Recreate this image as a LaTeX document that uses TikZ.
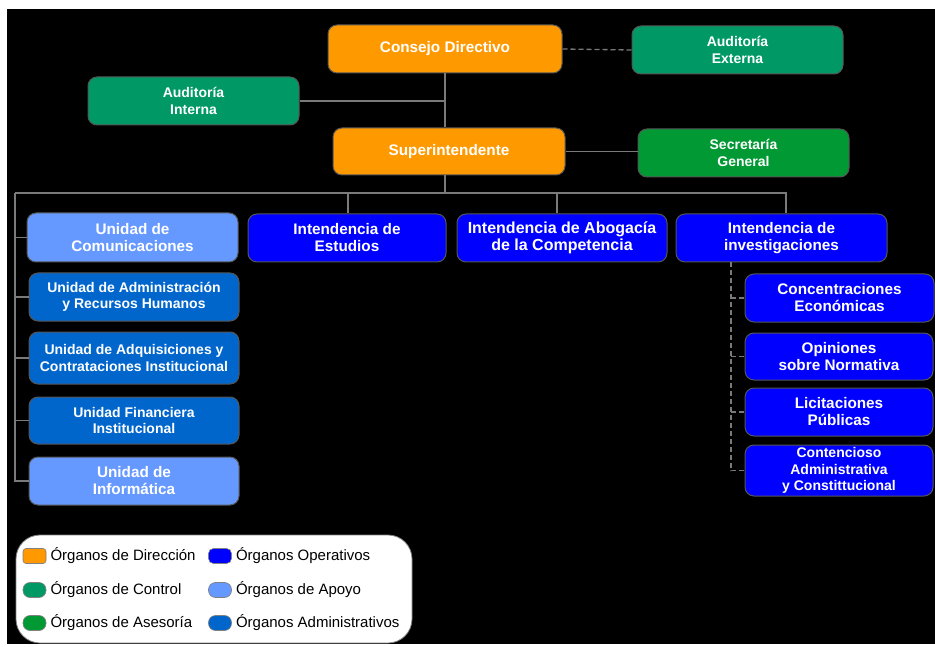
\documentclass[tikz,border=0pt]{standalone}
\usepackage{fontspec}
\setmainfont{Liberation Sans}
\usetikzlibrary{positioning}
\definecolor{cdir}{HTML}{FF9900}
\definecolor{cctl}{HTML}{009966}
\definecolor{case}{HTML}{009933}
\definecolor{cope}{HTML}{0000FF}
\definecolor{capo}{HTML}{6699FF}
\definecolor{cadm}{HTML}{0066CC}
\definecolor{cline}{HTML}{7A7A7A}
\begin{document}
\begin{tikzpicture}[x=1pt,y=-1pt,
  box/.style={draw=cline!70!black, line width=1pt, rounded corners=9pt, text=white,
    font=\fontsize{15.3}{17}\selectfont\bfseries, align=center, inner sep=0pt},
  smallbox/.style={box, font=\fontsize{14}{16.5}\selectfont\bfseries},
  bigbox/.style={box, font=\fontsize{16}{17}\selectfont\bfseries},
  conn/.style={draw=cline, line width=1.3pt},
  dconn/.style={draw=cline, line width=1.3pt, dash pattern=on 5pt off 3pt},
  swatch/.style={draw=gray, line width=0.6pt, minimum width=23pt, minimum height=15pt, inner sep=0pt},
  legtext/.style={anchor=west, inner sep=0pt, font=\fontsize{15}{17}\selectfont, text=black}
]
\useasboundingbox (0,0) rectangle (935,647);
\fill[white] (0,0) rectangle (935,647);
\fill[black] (7,9) rectangle (935,644);

% top level
\node[box, fill=cdir, minimum width=234pt, minimum height=48pt] (cons) at (445,49) {Consejo Directivo};
\node[smallbox, fill=cctl, minimum width=211pt, minimum height=48pt] (audext) at (737.5,50) {Auditoría\\Externa};
\node[smallbox, fill=cctl, minimum width=211pt, minimum height=48pt] (audint) at (193.5,101) {Auditoría\\Interna};
\node[box, fill=cdir, minimum width=232pt, minimum height=47pt] (sup) at (449,151.5) {Superintendente};
\node[smallbox, fill=case, minimum width=211pt, minimum height=48pt] (secgen) at (743.5,153) {Secretaría\\General};

% left column
\node[box, fill=capo, minimum width=211pt, minimum height=49pt] (com) at (132.5,237.5) {Unidad de\\Comunicaciones};
\node[smallbox, fill=cadm, minimum width=210pt, minimum height=48pt] (adm) at (134,297) {Unidad de Administración\\y Recursos Humanos};
\node[smallbox, fill=cadm, minimum width=210pt, minimum height=52pt] (adq) at (134,358) {Unidad de Adquisiciones y\\Contrataciones Institucional};
\node[smallbox, fill=cadm, minimum width=210pt, minimum height=47pt] (fin) at (134,420.5) {Unidad Financiera\\Institucional};
\node[box, fill=capo, minimum width=210pt, minimum height=48pt] (inf) at (134,481) {Unidad de\\Informática};

% intendencias
\node[box, fill=cope, minimum width=198pt, minimum height=48pt] (est) at (347,238) {Intendencia de\\Estudios};
\node[bigbox, fill=cope, minimum width=210pt, minimum height=48pt] (abo) at (562,238) {Intendencia de Abogacía\\de la Competencia};
\node[box, fill=cope, minimum width=211pt, minimum height=48pt] (inv) at (781.5,238) {Intendencia de\\investigaciones};

% right column
\node[box, fill=cope, minimum width=189pt, minimum height=48pt] (conc) at (839.5,298) {Concentraciones\\Económicas};
\node[box, fill=cope, minimum width=188pt, minimum height=47pt] (opi) at (839,356.5) {Opiniones\\sobre Normativa};
\node[box, fill=cope, minimum width=188pt, minimum height=48pt] (lic) at (839,412) {Licitaciones\\Públicas};
\node[smallbox, fill=cope, minimum width=188pt, minimum height=51pt] (cont) at (839,470.5) {Contencioso\\Administrativa\\y Constittucional};

% connectors top
\draw[dconn] (cons.east) -- (audext.west);
\draw[conn] (cons.south) -- (cons.south |- sup.north);
\draw[conn] (audint.east) -- (audint.east -| cons.south);
\draw[conn] (sup.east) -- (sup.east -| secgen.west);

% bus
\coordinate (busL) at (15,193);
\coordinate (busR) at ([xshift=4.5pt]inv.north |- busL);
\draw[conn] (cons.south |- sup.south) -- (cons.south |- busL);
\draw[conn] (busL) -- (busR) -- ([xshift=4.5pt]inv.north);
\draw[conn] ([xshift=1pt]est.north) -- ([xshift=1pt]est.north |- busL);
\draw[conn] ([xshift=-5pt]abo.north) -- ([xshift=-5pt]abo.north |- busL);

% left vertical
\draw[conn] (busL) -- (busL |- inf.west) -- (inf.west);
\draw[conn] (busL |- com.west) -- (com.west);
\draw[conn] (busL |- adm.west) -- (adm.west);
\draw[conn] (busL |- adq.west) -- (adq.west);
\draw[conn] (busL |- fin.west) -- (fin.west);

% right dashed
\coordinate (invdrop) at ([xshift=-50.5pt]inv.south);
\draw[dconn] (invdrop) -- (invdrop |- cont.west) -- (cont.west);
\draw[dconn] (invdrop |- conc.west) -- (conc.west);
\draw[dconn] (invdrop |- opi.west) -- (opi.west);
\draw[dconn] (invdrop |- lic.west) -- (lic.west);

% legend
\node[draw=gray, line width=0.8pt, fill=white, rounded corners=24pt, minimum width=396pt, minimum height=108pt, inner sep=0pt] (legend) at (214,589) {};
\node[swatch, fill=cdir, rounded corners=3pt] (s1) at (34.5,556) {};
\node[legtext, right=4pt of s1] (t1) {Órganos de Dirección};
\node[swatch, fill=cctl, rounded corners=7pt] (s2) at (34.5,590) {};
\node[legtext, right=4pt of s2] (t2) {Órganos de Control};
\node[swatch, fill=case, rounded corners=7pt] (s3) at (34.5,623) {};
\node[legtext, right=4pt of s3] (t3) {Órganos de Asesoría};
\node[swatch, fill=cope, rounded corners=5pt] (s4) at (220,556) {};
\node[legtext, right=4pt of s4] (t4) {Órganos Operativos};
\node[swatch, fill=capo, rounded corners=7pt] (s5) at (220,590) {};
\node[legtext, right=4pt of s5] (t5) {Órganos de Apoyo};
\node[swatch, fill=cadm, rounded corners=7pt] (s6) at (220,623) {};
\node[legtext, right=4pt of s6] (t6) {Órganos Administrativos};
\end{tikzpicture}
\end{document}
